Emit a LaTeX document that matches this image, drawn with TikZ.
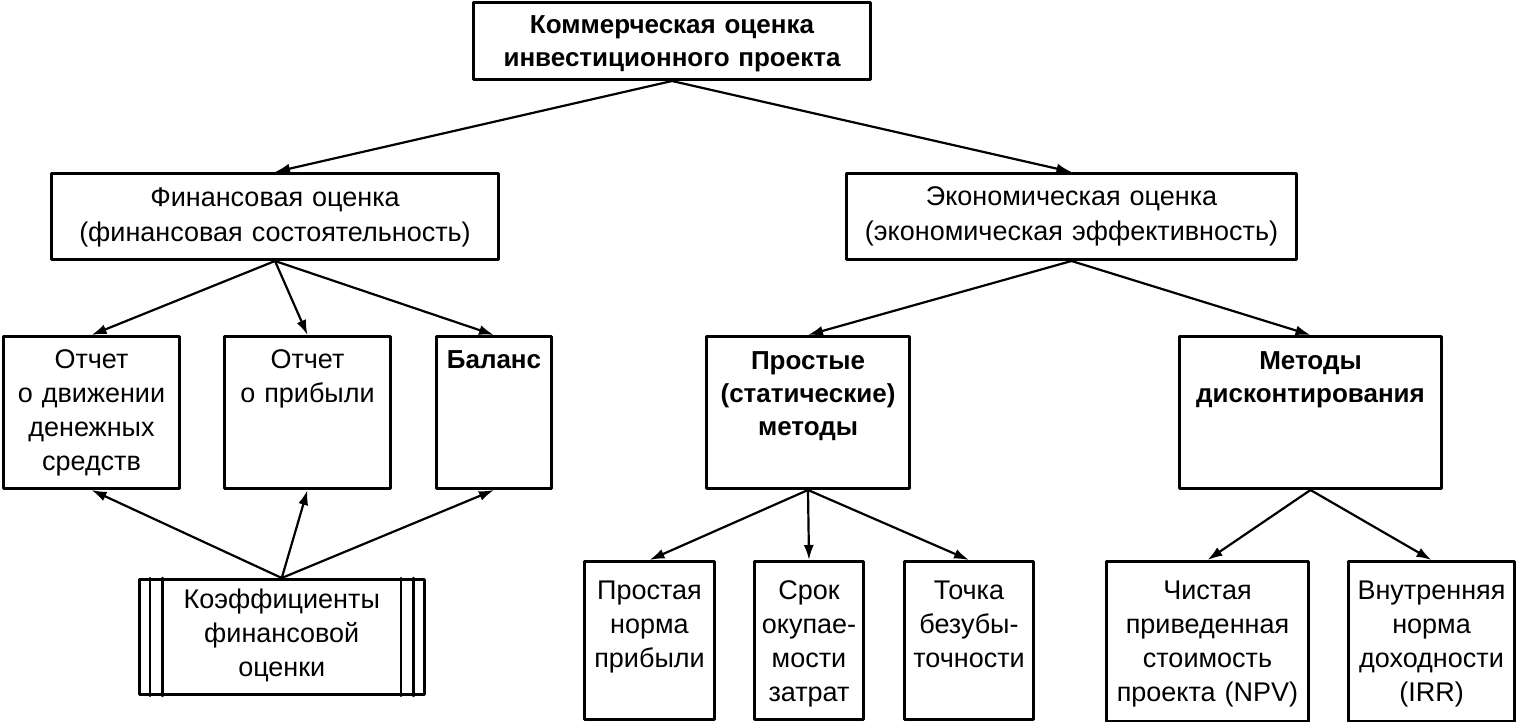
\documentclass[tikz,border=0pt]{standalone}
\usepackage{fontspec}
\setmainfont{Liberation Sans}
\usetikzlibrary{arrows.meta}
\def\lineColor{black}

\begin{document}
\begin{tikzpicture}[x=1pt, y=-1pt, line cap=round, line join=round,
	box/.style={draw=\lineColor, line width=3pt, anchor=north west, inner xsep=0pt, inner ysep=0pt,
		align=center, font=\fontsize{27}{34}\selectfont, text height=32pt},
	boldbox/.style={box, font=\fontsize{26}{33}\selectfont\bfseries},
	arrow/.style={draw=\lineColor, line width=2.2pt, -{Latex[length=15pt, width=10pt]}}]
	\useasboundingbox (0,0) rectangle (1519,722);

	% top level
	\node[boldbox, text width=397pt, text height=31pt, text depth=46pt] (commercial) at (472,1)
		{Коммерческая оценка\\инвестиционного проекта};
	\node[box, text width=447pt, text height=33pt, text depth=53pt, font=\fontsize{27}{35}\selectfont] (financial) at (50,172)
		{Финансовая оценка\\(финансовая состоятельность)};
	\node[box, text width=450pt, text height=32pt, text depth=54pt, font=\fontsize{27}{35}\selectfont] (economic) at (845,172)
		{Экономическая оценка\\(экономическая~эффективность)};

	% financial branch
	\node[box, text width=176pt, text depth=120pt] (cashflow) at (2,335)
		{Отчет\\о движении\\денежных\\средств};
	\node[box, text width=166pt, text depth=120pt] (profit) at (223,335)
		{Отчет\\о прибыли};
	\node[boldbox, text width=115pt, text height=32pt, text depth=120pt] (balance) at (435,335)
		{Баланс};
	\node[box, text width=285.5pt, text height=29pt, text depth=86pt] (ratios) at (137.5,578)
		{Коэффициенты\\финансовой\\оценки};
	\foreach \dx in {12.5, 25} {
		\draw[line width=2.4pt] ([xshift=\dx pt]ratios.north west) -- ([xshift=\dx pt]ratios.south west);
		\draw[line width=2.4pt] ([xshift=-\dx pt]ratios.north east) -- ([xshift=-\dx pt]ratios.south east);
	}

	% economic branch
	\node[boldbox, text width=203pt, text height=33pt, text depth=119pt] (simple) at (705,335)
		{Простые\\(статические)\\методы};
	\node[boldbox, text width=262pt, text height=33pt, text depth=119pt] (discount) at (1178,335)
		{Методы\\дисконтирования};
	\node[box, text width=130pt, text height=38pt, text depth=120pt] (simplerate) at (583,560)
		{Простая\\норма\\прибыли};
	\node[box, text width=109pt, text height=38pt, text depth=120pt] (payback) at (753,560)
		{Срок\\окупае-\\мости\\затрат};
	\node[box, text width=129pt, text height=38pt, text depth=120pt] (breakeven) at (903,560)
		{Точка\\безубы-\\точности};
	\node[box, text width=202pt, text height=38pt, text depth=122pt] (npv) at (1105,560)
		{Чистая\\приведенная\\стоимость\\проекта (NPV)};
	\node[box, text width=166pt, text height=38pt, text depth=122pt] (irr) at (1347,560)
		{Внутренняя\\норма\\доходности\\(IRR)};

	% connectors
	\foreach \from/\to in {commercial/financial, commercial/economic,
		financial/cashflow, financial/profit, financial/balance,
		economic/simple, economic/discount,
		simple/simplerate, simple/payback, simple/breakeven,
		discount/npv, discount/irr} {
		\draw[arrow] (\from.south) -- (\to.north);
	}
	\foreach \to in {cashflow, profit, balance} {
		\draw[arrow] (ratios.north) -- (\to.south);
	}
\end{tikzpicture}
\end{document}
